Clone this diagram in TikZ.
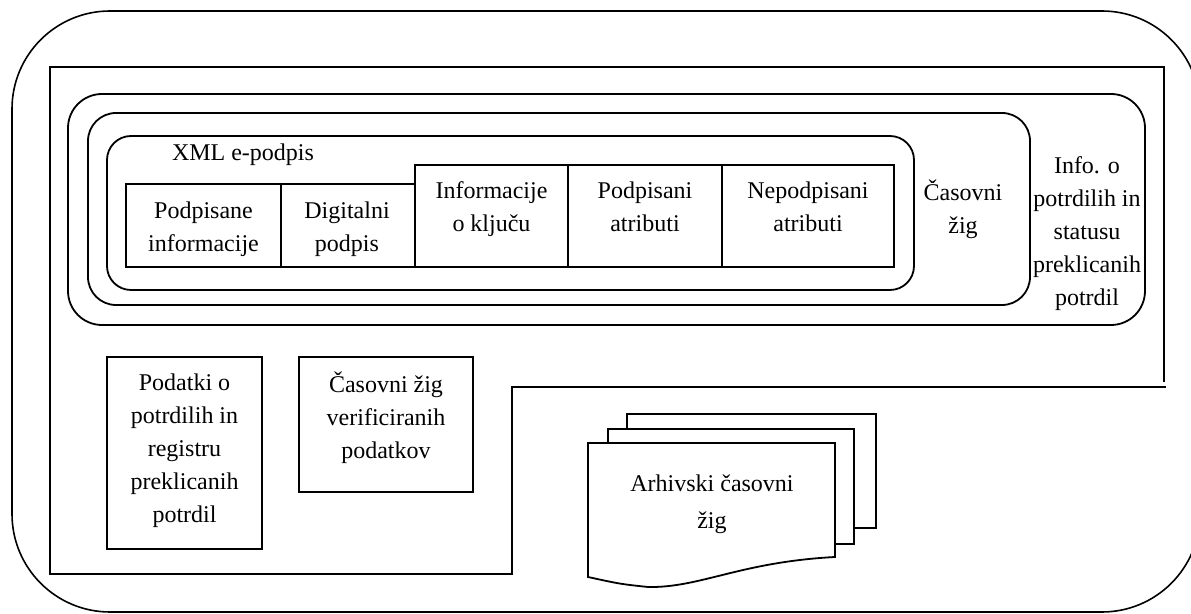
\documentclass[tikz,border=0pt]{standalone}
\usepackage{fontspec}
\setmainfont{Liberation Serif}
\begin{document}
\begin{tikzpicture}[x=0.5pt,y=-0.5pt,
  frame/.style={draw=black,line width=0.9pt},
  lbl/.style={inner sep=0pt,align=center,font=\fontsize{12}{16.5}\selectfont},
  lblwide/.style={lbl,font=\fontsize{12}{18.5}\selectfont}]
\useasboundingbox (0,0) rectangle (1191,614);
\begin{scope}
\clip (0,0) rectangle (1191,614);
% outer rounded container, partly running past the right edge
\draw[line width=0.8pt,rounded corners=49pt] (12,11) rectangle (1200,612);
\end{scope}

% square container with the notch at the lower right
\draw[frame] (1164,382) -- (1164,67) -- (50,67) -- (50,574) -- (512,574) -- (512,387) -- (1166,387);

% nested rounded layers
\draw[frame,rounded corners=17pt] (68,94) rectangle (1145,325);
\draw[frame,rounded corners=14pt] (88,113) rectangle (1030,305);
\draw[frame,rounded corners=12pt] (107,136) rectangle (914,290);

% signature parts
\draw[frame] (126,184) rectangle (281,267);
\draw[frame] (281,184) rectangle (415,267);
\draw[frame] (415,165) rectangle (568,267);
\draw[frame] (568,165) rectangle (722,267);
\draw[frame] (722,165) rectangle (894,267);

\node[lbl] (xml)  at (243,154.5) {XML e-podpis};
\node[lbl] (pinf) at (203.5,229) {Podpisane\\informacije};
\node[lbl] (dig)  at (347,229) {Digitalni\\podpis};
\node[lbl] (kinf) at (491.5,209) {Informacije\\o ključu};
\node[lbl] (patr) at (645,207) {Podpisani\\atributi};
\node[lbl] (natr) at (808,207) {Nepodpisani\\atributi};
\node[lbl] (ts)   at (963,209) {Časovni\\žig};
\node[lbl] (info) at (1087,234) {Info. o\\potrdilih in\\statusu\\preklicanih\\potrdil};

% lower boxes
\draw[frame] (107,357) rectangle (262,549);
\draw[frame] (299,357) rectangle (473,492);
\node[lbl] (crl) at (184.5,451) {Podatki o\\potrdilih in\\registru\\preklicanih\\potrdil};
\node[lbl] (vts) at (386,418) {Časovni žig\\verificiranih\\podatkov};

% stacked documents
\draw[frame,fill=white] (627,414) rectangle (876,528);
\draw[frame,fill=white] (608,429) rectangle (854,544);
\draw[frame,fill=white] (588,443) -- (835,443) -- (835,557)
  .. controls (740,562) and (700,588) .. (648,587)
  .. controls (620,584) .. (588,577) -- cycle;
\node[lblwide] (ats) at (712,504) {Arhivski časovni\\žig};
\end{tikzpicture}
\end{document}
